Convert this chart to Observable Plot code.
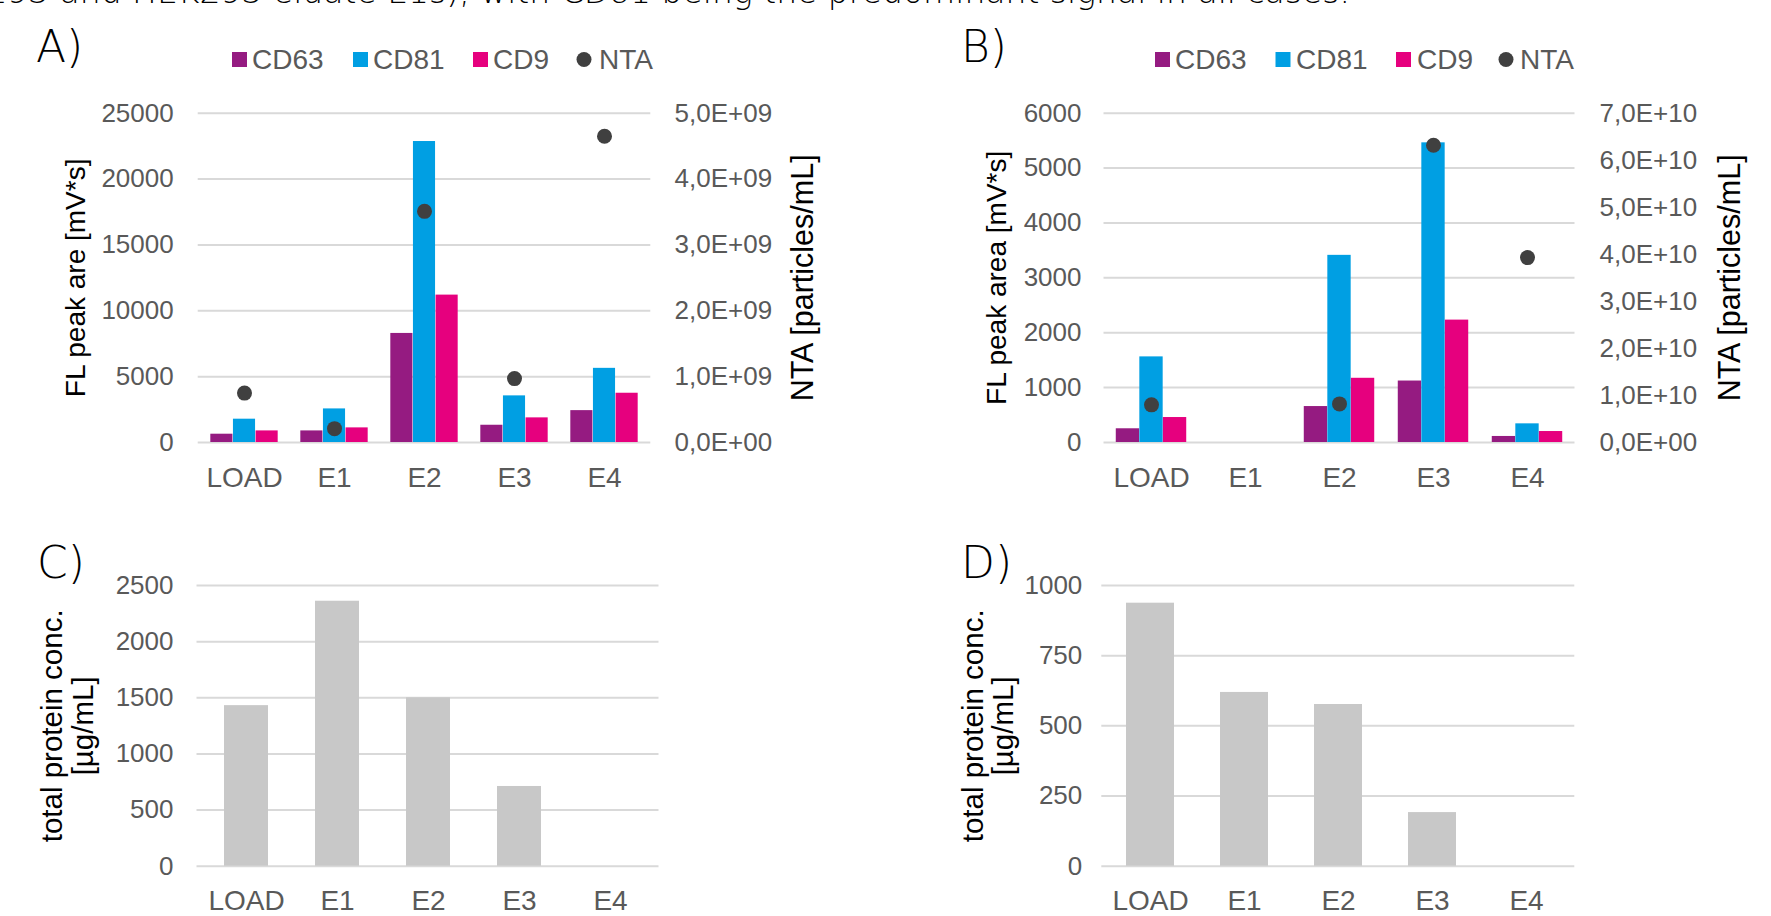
<!DOCTYPE html>
<html>
<head>
<meta charset="utf-8">
<script src="https://cdn.jsdelivr.net/npm/d3@7"></script>
<script src="https://cdn.jsdelivr.net/npm/@observablehq/plot@0.6"></script>
<style>
  html, body { margin: 0; padding: 0; background: #fff; }
  #root { position: relative; width: 1771px; height: 916px; overflow: hidden; background: #fff; }
  .panel { position: absolute; }
  .panel svg { overflow: visible; }
</style>
</head>
<body>
<div id="root"></div>
<script>
// ---------------- data ----------------
const categories = ["LOAD", "E1", "E2", "E3", "E4"];
const series = ["CD63", "CD81", "CD9"];
const seriesColors = ["#951b81", "#009fe3", "#e6007e"];
const ntaName = "NTA";
const ntaColor = "#404040";
const proteinColor = "#c8c8c8";

// Panel A – FL peak area [mV*s] and NTA [particles/mL]
const aCD63 = [630, 880, 8280, 1310, 2420];
const aCD81 = [1770, 2550, 22850, 3540, 5630];
const aCD9  = [880, 1110, 11190, 1870, 3740];
const aNTA  = [7.5e8, 2.1e8, 3.51e9, 9.7e8, 4.65e9];

// Panel B – FL peak area [mV*s] and NTA [particles/mL]
const bCD63 = [250, null, 655, 1120, 110];
const bCD81 = [1560, null, 3410, 5460, 340];
const bCD9  = [455, null, 1170, 2230, 200];
const bNTA  = [8.0e9, null, 8.2e9, 6.32e10, 3.93e10];

// Panels C, D – total protein conc. [µg/mL]
const cProtein = [1430, 2360, 1500, 710, null];
const dProtein = [937, 619, 576, 191, null];

// tick values
const aLeftTicks  = [0, 5000, 10000, 15000, 20000, 25000];
const aRightTicks = [0, 1e9, 2e9, 3e9, 4e9, 5e9];
const bLeftTicks  = [0, 1000, 2000, 3000, 4000, 5000, 6000];
const bRightTicks = [0, 1e10, 2e10, 3e10, 4e10, 5e10, 6e10, 7e10];
const cTicks = [0, 500, 1000, 1500, 2000, 2500];
const dTicks = [0, 250, 500, 750, 1000];

// text
const panelLabels = ["A)", "B)", "C)", "D)"];
const aLeftTitle = "FL peak are [mV*s]";
const bLeftTitle = "FL peak area [mV*s]";
const rightTitle = "NTA [particles/mL]";
const proteinTitle = "total protein conc.\n[µg/mL]";
const captionText = "HEK293 and HEK293 eluate E1s), with CD81 being the predominant signal in all cases.";

// ---------------- helpers ----------------
const TICK_FONT = "'Liberation Sans', Arial, sans-serif";
const TITLE_FONT = "'Liberation Sans', Arial, sans-serif";

function sci(v) {
  v = Number(v.toPrecision(10));
  if (v === 0) return "0,0E+00";
  const e = Math.floor(Math.log10(v));
  const m = v / Math.pow(10, e);
  return m.toFixed(1).replace(".", ",") + "E+" + String(e).padStart(2, "0");
}

const root = document.getElementById("root");
function place(node, left, top) {
  const div = document.createElement("div");
  div.className = "panel";
  div.style.left = left + "px";
  div.style.top = top + "px";
  div.appendChild(node);
  root.appendChild(div);
}

function groupedPanel(o) {
  const k = o.yMax / o.rightMax;
  const vals = o.vals;
  const rows = [];
  series.forEach((s, i) => vals[i].forEach((v, j) => {
    if (v != null) rows.push({cat: categories[j], series: s, value: v});
  }));
  const ntaRows = categories.map((c, j) => ({cat: c, nta: o.nta[j]})).filter(d => d.nta != null);
  const step = (o.width - o.ml - o.mr) / categories.length;
  const bw = step * 0.25;
  const chart = Plot.plot({
    width: o.width, height: o.height,
    marginLeft: o.ml, marginRight: o.mr, marginTop: o.mt, marginBottom: o.mb,
    style: {fontFamily: TICK_FONT, fontSize: "26px", color: "#595959", background: "transparent", overflow: "visible"},
    x: {type: "band", domain: categories, padding: 0},
    y: {domain: [0, o.yMax]},
    marks: [
      Plot.gridY(o.leftTicks, {stroke: "#d9d9d9", strokeOpacity: 1, strokeWidth: 2}),
      ...series.map((s, i) => Plot.barY(rows.filter(d => d.series === s), {
        x: "cat", y: "value", fill: seriesColors[i],
        insetLeft: (step - bw) / 2, insetRight: (step - bw) / 2, dx: (i - 1) * bw
      })),
      Plot.dot(ntaRows, {x: "cat", y: d => d.nta * k, r: 7.5, fill: ntaColor}),
      Plot.axisX({tickSize: 0, tickPadding: o.xPad, fontSize: 28, label: null}),
      Plot.axisY(o.leftTicks, {anchor: "left", tickSize: 0, tickPadding: o.leftPad, fontSize: 26, label: null, tickFormat: d => String(d)}),
      Plot.axisY(o.rightTicks.map(t => t * k), {anchor: "right", tickSize: 0, tickPadding: o.rightPad, fontSize: 26, label: null, tickFormat: d => sci(d / k)}),
      Plot.text([o.leftTitle], {text: d => d, frameAnchor: "left", textAnchor: "middle", lineAnchor: "middle", dx: o.leftTitleDx, rotate: -90, fontSize: 28, fill: "#000", fontFamily: TITLE_FONT}),
      Plot.text([rightTitle], {text: d => d, frameAnchor: "right", textAnchor: "middle", lineAnchor: "middle", dx: o.rightTitleDx, rotate: -90, fontSize: 30.5, fill: "#000", fontFamily: TITLE_FONT})
    ]
  });
  place(chart, o.left, o.top);
}

function proteinPanel(o) {
  const rows = categories.map((c, j) => ({cat: c, value: o.vals[j]})).filter(d => d.value != null);
  const chart = Plot.plot({
    width: o.width, height: o.height,
    marginLeft: o.ml, marginRight: o.mr, marginTop: o.mt, marginBottom: o.mb,
    style: {fontFamily: TICK_FONT, fontSize: "26px", color: "#595959", background: "transparent", overflow: "visible"},
    x: {type: "band", domain: categories, paddingInner: o.pi, paddingOuter: o.po},
    y: {domain: [0, o.yMax]},
    marks: [
      Plot.gridY(o.ticks, {stroke: "#d9d9d9", strokeOpacity: 1, strokeWidth: 2}),
      Plot.barY(rows, {x: "cat", y: "value", fill: proteinColor}),
      Plot.axisX({tickSize: 0, tickPadding: o.xPad, fontSize: 28, label: null}),
      Plot.axisY(o.ticks, {anchor: "left", tickSize: 0, tickPadding: o.leftPad, fontSize: 26, label: null, tickFormat: d => String(d)}),
      Plot.text([proteinTitle], {text: d => d, frameAnchor: "left", textAnchor: "middle", lineAnchor: "middle", dx: o.titleDx, rotate: -90, fontSize: 29.5, lineHeight: 1.04, fill: "#000", fontFamily: TITLE_FONT})
    ]
  });
  place(chart, o.left, o.top);
}

// ---------------- panels ----------------
groupedPanel({
  left: 0, top: 80, width: 900, height: 440, ml: 197.7, mr: 249.7, mt: 32.7, mb: 78,
  yMax: 25000, rightMax: 5e9, leftTicks: aLeftTicks, rightTicks: aRightTicks,
  vals: [aCD63, aCD81, aCD9], nta: aNTA, leftTitle: aLeftTitle,
  xPad: 25, leftPad: 24.5, rightPad: 23.7, leftTitleDx: -122.5, rightTitleDx: 152
});
groupedPanel({
  left: 900, top: 80, width: 871, height: 440, ml: 203.5, mr: 196.5, mt: 32.7, mb: 78,
  yMax: 6000, rightMax: 7e10, leftTicks: bLeftTicks, rightTicks: bRightTicks,
  vals: [bCD63, bCD81, bCD9], nta: bNTA, leftTitle: bLeftTitle,
  xPad: 25, leftPad: 22.5, rightPad: 24.5, leftTitleDx: -106.5, rightTitleDx: 155
});
proteinPanel({
  left: 0, top: 520, width: 900, height: 396, ml: 196.5, mr: 241.5, mt: 65, mb: 50.3,
  yMax: 2500, ticks: cTicks, vals: cProtein, pi: 0.52, po: 0.284,
  xPad: 24, leftPad: 23.5, titleDx: -129
});
proteinPanel({
  left: 900, top: 520, width: 871, height: 396, ml: 201.3, mr: 196.7, mt: 65, mb: 50.3,
  yMax: 1000, ticks: dTicks, vals: dProtein, pi: 0.49, po: 0.26,
  xPad: 24, leftPad: 19.5, titleDx: -113.5
});

// ---------------- overlay: panel labels, legends, caption ----------------
const overlay = d3.select("#root").append("svg")
  .attr("width", 1771).attr("height", 916)
  .style("position", "absolute").style("left", "0px").style("top", "0px")
  .style("pointer-events", "none");

overlay.append("text")
  .attr("x", 1350).attr("y", 3)
  .attr("text-anchor", "end")
  .attr("font-family", "'DejaVu Sans', sans-serif")
  .attr("font-weight", 300)
  .attr("font-size", 33)
  .attr("fill", "#000")
  .text(captionText);

const labelPos = [[36, 62], [961, 62], [37, 578], [961, 578]];
panelLabels.forEach((t, i) => {
  overlay.append("text")
    .attr("x", labelPos[i][0]).attr("y", labelPos[i][1])
    .attr("font-family", "'DejaVu Sans', sans-serif")
    .attr("font-weight", 200)
    .attr("font-size", 44)
    .attr("fill", "#000")
    .text(t);
});

function legend(squareX, textX, dotX) {
  const g = overlay.append("g")
    .attr("font-family", TICK_FONT).attr("font-size", 28).attr("fill", "#595959");
  series.forEach((s, i) => {
    g.append("rect").attr("x", squareX[i]).attr("y", 52).attr("width", 15).attr("height", 15).attr("fill", seriesColors[i]);
    g.append("text").attr("x", textX[i]).attr("y", 69).text(s);
  });
  g.append("circle").attr("cx", dotX).attr("cy", 59.5).attr("r", 7.5).attr("fill", ntaColor);
  g.append("text").attr("x", textX[3]).attr("y", 69).text(ntaName);
}
legend([232, 353, 473], [252, 373, 493, 599], 584);
legend([1155, 1275.5, 1396], [1175, 1296, 1417, 1520], 1506);
</script>
</body>
</html>
